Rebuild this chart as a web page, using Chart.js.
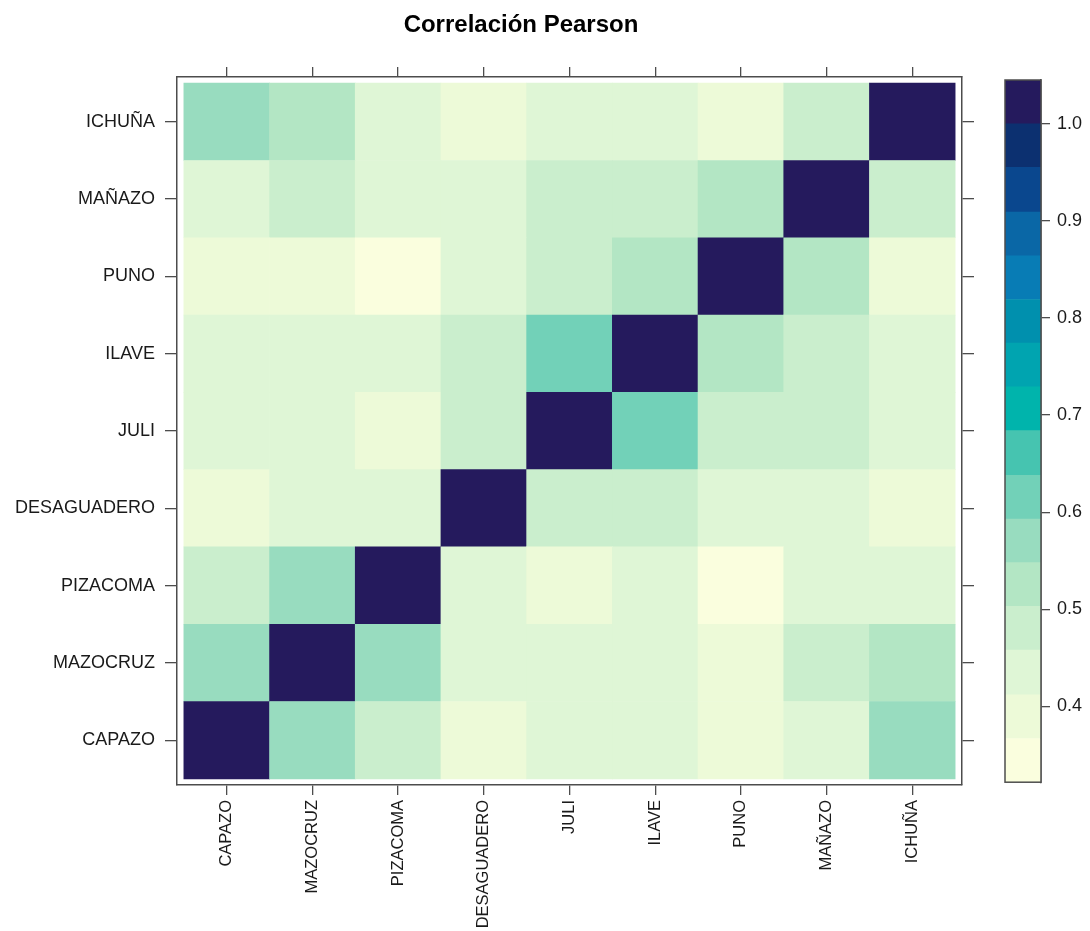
<!DOCTYPE html>
<html>
<head>
<meta charset="utf-8">
<script src="https://cdn.jsdelivr.net/npm/chart.js@4.4.1/dist/chart.umd.min.js"></script>
<style>
  body { margin: 0; background: #fff; overflow: hidden; }
  #wrap { position: relative; width: 1090px; height: 931px; }
  #title {
    position: absolute; left: 0; top: 10px; width: 1042px; text-align: center;
    font: bold 24px "Liberation Sans", Arial, sans-serif; color: #000;
  }
  #heat { position: absolute; left: 0; top: 0; }
  #bar { position: absolute; left: 990px; top: 60px; }
</style>
</head>
<body>
<div id="wrap">
  <canvas id="heat" width="1090" height="931"></canvas>
  <canvas id="bar" width="100" height="740"></canvas>
  <div id="title">Correlación Pearson</div>
</div>
<script>
// estaciones (orden de abajo hacia arriba / izquierda a derecha)
var stations = ["CAPAZO", "MAZOCRUZ", "PIZACOMA", "DESAGUADERO", "JULI", "ILAVE", "PUNO", "MAÑAZO", "ICHUÑA"];

// correlaciones, una fila por estacion
var capazo      = [1.00, 0.57, 0.48, 0.39, 0.43, 0.44, 0.39, 0.44, 0.57];
var mazocruz    = [0.57, 1.00, 0.56, 0.44, 0.43, 0.43, 0.39, 0.48, 0.53];
var pizacoma    = [0.48, 0.56, 1.00, 0.43, 0.40, 0.43, 0.35, 0.44, 0.43];
var desaguadero = [0.39, 0.44, 0.43, 1.00, 0.48, 0.48, 0.44, 0.44, 0.39];
var juli        = [0.43, 0.43, 0.40, 0.48, 1.00, 0.62, 0.48, 0.48, 0.44];
var ilave       = [0.44, 0.43, 0.43, 0.48, 0.62, 1.00, 0.52, 0.48, 0.44];
var puno        = [0.39, 0.39, 0.35, 0.44, 0.48, 0.52, 1.00, 0.53, 0.39];
var manazo      = [0.44, 0.48, 0.44, 0.44, 0.48, 0.48, 0.53, 1.00, 0.48];
var ichuna      = [0.57, 0.53, 0.43, 0.39, 0.43, 0.44, 0.39, 0.48, 1.00];
var rows = [capazo, mazocruz, pizacoma, desaguadero, juli, ilave, puno, manazo, ichuna];

// escala de colores (16 intervalos)
var breaks = [0.322, 0.367, 0.412, 0.458, 0.503, 0.548, 0.593, 0.638, 0.684,
              0.729, 0.774, 0.819, 0.864, 0.909, 0.955, 1.000, 1.045];
var palette = ["#FAFEDE", "#EDFAD8", "#DFF6D6", "#CAEECD", "#B3E6C4", "#98DCBF",
               "#72D1B8", "#46C4B0", "#00B4AC", "#00A4B0", "#0090AE", "#087CB5",
               "#0A67A6", "#0A478E", "#0C3070", "#251A5D"];
var barTicks = [0.4, 0.5, 0.6, 0.7, 0.8, 0.9, 1.0];

function colorFor(v) {
  var k = 0;
  for (var i = 0; i < palette.length; i++) {
    if (v >= breaks[i]) k = i;
  }
  return palette[k];
}

var FAMILY = "'Liberation Sans', Arial, sans-serif";
var LINE = "#4d4d4d";

var datasets = rows.map(function (row, j) {
  return {
    label: stations[j],
    data: row.map(function (v, i) { return { x: i, y: [j - 0.5, j + 0.5] }; }),
    backgroundColor: row.map(colorFor),
    borderWidth: 0,
    grouped: false,
    barPercentage: 1,
    categoryPercentage: 1
  };
});

function stationTicks(scale) {
  scale.ticks = stations.map(function (s, i) { return { value: i }; });
}
function stationLabel(v) { return stations[Math.round(v)]; }

function axis(pos, showLabels, size) {
  var horizontal = pos === "top" || pos === "bottom";
  return {
    type: "linear",
    position: pos,
    min: -0.58,
    max: 8.58,
    offset: false,
    afterBuildTicks: stationTicks,
    afterFit: function (s) {
      if (horizontal) s.height = size; else s.width = size;
    },
    grid: {
      drawOnChartArea: false, drawTicks: true,
      tickLength: horizontal ? 10 : 12, color: LINE, lineWidth: 1.3, offset: false
    },
    border: { display: true, color: LINE, width: 1.5 },
    ticks: {
      display: showLabels,
      callback: stationLabel,
      autoSkip: false,
      minRotation: horizontal ? 90 : 0,
      maxRotation: horizontal ? 90 : 0,
      padding: horizontal ? 5 : 10,
      color: "#1a1a1a",
      font: { family: FAMILY, size: horizontal ? 16.5 : 18 }
    }
  };
}

new Chart(document.getElementById("heat"), {
  type: "bar",
  data: { datasets: datasets },
  options: {
    responsive: false,
    animation: false,
    devicePixelRatio: 1,
    layout: { padding: 0 },
    plugins: { legend: { display: false }, tooltip: { enabled: false } },
    scales: {
      x: axis("bottom", true, 146),
      x2: axis("top", false, 77),
      y: axis("left", true, 177),
      y2: axis("right", false, 128)
    }
  }
});

// barra de colores
var frame = {
  id: "frame",
  afterDatasetsDraw: function (chart) {
    var a = chart.chartArea, ctx = chart.ctx;
    ctx.save();
    ctx.strokeStyle = LINE;
    ctx.lineWidth = 1.5;
    ctx.strokeRect(a.left, a.top, a.right - a.left, a.bottom - a.top);
    ctx.restore();
  }
};

new Chart(document.getElementById("bar"), {
  type: "bar",
  data: {
    labels: ["r"],
    datasets: palette.map(function (c, k) {
      return {
        data: [[breaks[k], breaks[k + 1]]],
        backgroundColor: c,
        borderWidth: 0,
        grouped: false,
        barPercentage: 1,
        categoryPercentage: 1
      };
    })
  },
  options: {
    responsive: false,
    animation: false,
    devicePixelRatio: 1,
    layout: { padding: { left: 15, top: 20, bottom: 17, right: 0 } },
    plugins: { legend: { display: false }, tooltip: { enabled: false } },
    scales: {
      x: { display: false },
      y: {
        position: "right",
        min: breaks[0],
        max: breaks[breaks.length - 1],
        afterBuildTicks: function (s) {
          s.ticks = barTicks.map(function (v) { return { value: v }; });
        },
        afterFit: function (s) { s.width = 49; },
        grid: { drawOnChartArea: false, drawTicks: true, tickLength: 9, color: LINE, lineWidth: 1.3 },
        border: { display: true, color: LINE, width: 1.5 },
        ticks: {
          callback: function (v) { return v.toFixed(1); },
          padding: 7,
          color: "#1a1a1a",
          font: { family: FAMILY, size: 18 }
        }
      }
    }
  },
  plugins: [frame]
});
</script>
</body>
</html>
